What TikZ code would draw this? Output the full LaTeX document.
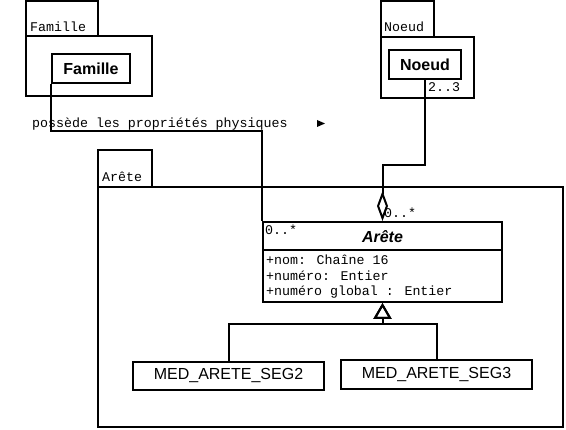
\documentclass[tikz,border=0pt]{standalone}
\usepackage{fontspec}
\setmainfont{Liberation Sans}
\newfontfamily\monof{Liberation Mono}
\usetikzlibrary{arrows.meta}
\tikzset{
  ln/.style={line width=2pt, line join=miter},
  pkgbox/.style={ln, draw, fill=none},
  monotxt/.style={font=\monof\fontsize{13.3}{15}\selectfont, inner sep=0pt, anchor=west},
  clsbox/.style={ln, draw, inner sep=0pt, font=\fontsize{16}{18}\selectfont\bfseries},
  subbox/.style={ln, draw, inner sep=0pt, font=\fontsize{16}{18}\selectfont},
}
\begin{document}
\begin{tikzpicture}[x=1pt,y=-1pt]
\useasboundingbox (0,0) rectangle (566,430);
% Famille package
\draw[pkgbox] (26,1) rectangle (98,36);
\draw[pkgbox] (26,36) rectangle (152,96);
\node[monotxt] (famtab) at (30,26.5) {Famille};
\node[clsbox, minimum width=78pt, minimum height=29pt] (famcls) at (91,68.5) {Famille};
% Noeud package
\draw[pkgbox] (381,1) rectangle (434,37);
\draw[pkgbox] (381,37) rectangle (474,98);
\node[monotxt] (noetab) at (384,26.5) {Noeud};
\node[clsbox, minimum width=72pt, minimum height=29pt] (noecls) at (425,64.5) {Noeud};
\node[monotxt] (m23) at (428,87) {2..3};
% Arete package
\draw[pkgbox] (98,150) rectangle (152,187);
\draw[pkgbox] (98,187) rectangle (563,427);
\node[monotxt] (aretab) at (102,177) {Arête};
% Arete class
\node[ln, draw, minimum width=239pt, minimum height=80pt, inner sep=0pt] (arete) at (382.5,262) {};
\draw[ln] (263,250) -- (502,250);
\node[font=\fontsize{16}{18}\selectfont\bfseries\itshape, inner sep=0pt] (aretename) at (382.5,236.5) {Arête};
\node[monotxt] (m0a) at (265,229.5) {0..*};
\node[monotxt] (at1) at (266,260) {+nom: Chaîne 16};
\node[monotxt] (at2) at (266,276) {+numéro: Entier};
\node[monotxt] (at3) at (266,292) {+numéro global : Entier};
% subclasses
\node[subbox, minimum width=191pt, minimum height=28pt] (seg2) at (228.5,376) {MED\_ARETE\_SEG2};
\node[subbox, minimum width=191pt, minimum height=29pt] (seg3) at (436.5,374.5) {MED\_ARETE\_SEG3};
% association Famille -> Arete
\coordinate (frow) at (0,131);
\draw[ln] (famcls.south west) |- (frow -| arete.north west) -- (arete.north west);
\node[monotxt] (assoc) at (32,124) {possède les propriétés physiques};
\fill (317,120) -- (325,123.5) -- (317,127) -- cycle;
% aggregation Noeud -> Arete
\coordinate (nrow) at (382.5,165);
\draw[ln, -{Diamond[open, length=30pt, width=11pt]}] (noecls.south) |- (nrow) -- (arete.north);
\node[monotxt] (m0b) at (384,213) {0..*};
% generalization
\coordinate (grow) at (382.5,324);
\draw[ln, -{Triangle[open, length=16pt, width=18pt]}] (seg2.north) |- (grow) -- (arete.south);
\draw[ln, -{Triangle[open, length=16pt, width=18pt]}] (seg3.north) |- (grow) -- (arete.south);
\end{tikzpicture}
\end{document}
